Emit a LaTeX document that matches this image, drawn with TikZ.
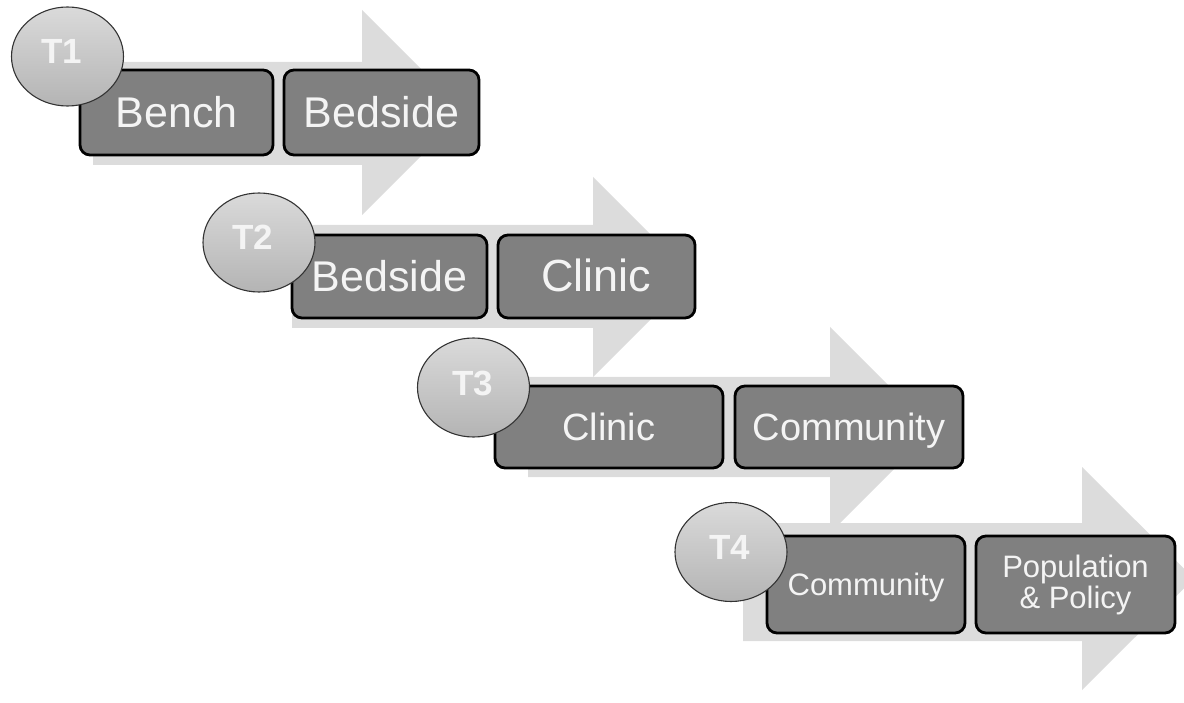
\documentclass[tikz,border=0pt]{standalone}
\usepackage{fontspec}
\setmainfont{Liberation Sans}
\usetikzlibrary{shapes.geometric}
\definecolor{arrowgray}{HTML}{DCDCDC}
\definecolor{boxgray}{HTML}{808080}
\definecolor{ctop}{HTML}{DADADA}
\definecolor{cbot}{HTML}{B4B4B4}
\definecolor{txtwhite}{HTML}{F4F4F4}
\tikzset{
  bigarrow/.style={fill=arrowgray, draw=none},
  stagebox/.style={draw=black, line width=2.8pt, fill=boxgray, rounded corners=10pt,
    text=txtwhite, inner sep=0pt, align=center},
  tcirc/.style={ellipse, draw=black!80, line width=1.1pt, top color=ctop, bottom color=cbot,
    minimum width=112pt, minimum height=99pt, inner sep=0pt},
  ttext/.style={text=txtwhite, font=\fontsize{35}{35}\selectfont\bfseries, inner sep=0pt},
  fA/.style={font=\fontsize{43}{43}\selectfont, text height=31pt, text depth=0pt},
  fB/.style={font=\fontsize{38}{38}\selectfont, text height=27pt, text depth=0pt},
  fC/.style={font=\fontsize{31}{32}\selectfont},
}
\begin{document}
\begin{tikzpicture}[x=1pt,y=-1pt]
\useasboundingbox (0,0) rectangle (1184,703);
% arrows
\fill[bigarrow] (93,62) -- (362,62) -- (362,10) -- (464.5,112.5) -- (362,215) -- (362,165) -- (93,165) -- cycle;
\fill[bigarrow] (292,225) -- (593,225) -- (593,177) -- (693,277) -- (593,377) -- (593,328) -- (292,328) -- cycle;
\fill[bigarrow] (528,377) -- (830,377) -- (830,327) -- (933,430) -- (830,533) -- (830,477) -- (528,477) -- cycle;
\fill[bigarrow] (743,523) -- (1082,523) -- (1082,467) -- (1194,578.5) -- (1082,690) -- (1082,641) -- (743,641) -- cycle;
% row 1
\node[stagebox, fA, minimum width=193pt, minimum height=85pt] (b1a) at (176.5,112.5) {Bench};
\node[stagebox, fA, minimum width=195pt, minimum height=85pt] (b1b) at (381.5,112.5) {Bedside};
% row 2
\node[stagebox, fA, minimum width=195pt, minimum height=83pt] (b2a) at (389.5,276.5) {Bedside};
\node[stagebox, fA, font=\fontsize{45}{45}\selectfont, minimum width=197pt, minimum height=83pt] (b2b) at (596.5,276.5) {Clinic};
% row 3
\node[stagebox, fB, minimum width=228pt, minimum height=82pt] (b3a) at (609,427) {Clinic};
\node[stagebox, fB, minimum width=228pt, minimum height=82pt] (b3b) at (849,427) {Community};
% row 4
\node[stagebox, fC, text height=22pt, text depth=0pt, minimum width=198pt, minimum height=97pt] (b4a) at (866,584.5) {Community};
\node[stagebox, fC, minimum width=199pt, minimum height=97pt] (b4b) at (1075.5,584.5) {Population\\[-1pt]\& Policy};
% ellipses
\node[tcirc] (t1) at (67.5,56.5) {};
\node[ttext] (t1l) at ([xshift=-6pt,yshift=5pt]t1.center) {T1};
\node[tcirc] (t2) at (259,242.5) {};
\node[ttext] (t2l) at ([xshift=-6pt,yshift=5pt]t2.center) {T2};
\node[tcirc] (t3) at (473.5,387.5) {};
\node[ttext] (t3l) at ([xshift=-1pt,yshift=4pt]t3.center) {T3};
\node[tcirc] (t4) at (731,552) {};
\node[ttext] (t4l) at ([xshift=-1pt,yshift=5pt]t4.center) {T4};
\end{tikzpicture}
\end{document}
